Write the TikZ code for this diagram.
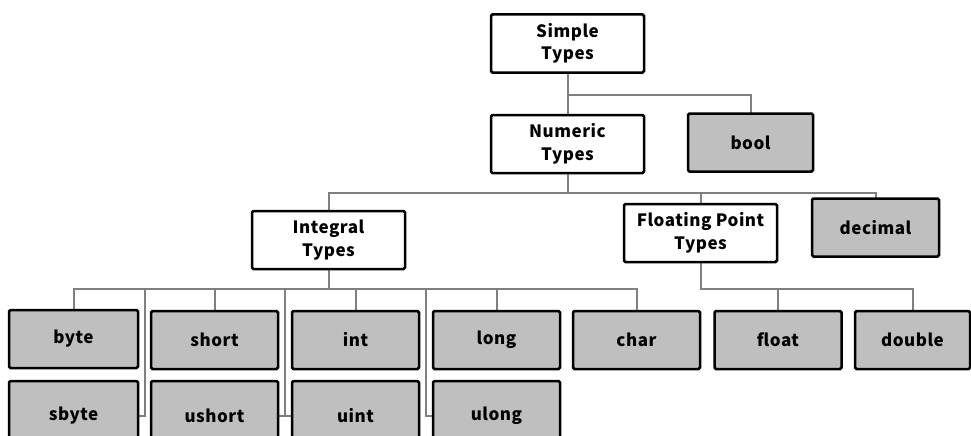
\documentclass[tikz,border=0pt]{standalone}
\usepackage{fontspec}
\setmainfont{Noto Sans CJK JP}[LetterSpace=3]
\usetikzlibrary{backgrounds}

\begin{document}
\begin{tikzpicture}[x=1pt,y=-1pt]
  \useasboundingbox (0,0) rectangle (971,436);
  \tikzstyle{Box}=[draw=black,line width=2.5pt,rounded corners=1.5pt,
    minimum width=153pt,minimum height=58pt,align=center,outer sep=0pt,
    font=\fontsize{17}{22.5}\selectfont\bfseries,inner sep=0pt]
  \tikzstyle{Leaf}=[Box,fill=gray!50!white,minimum width=127pt]
  \tikzstyle{Link}=[draw=gray,line width=2pt]
  \node[Box] (Simple) at (567.5,43.5) {Simple\\Types};
  \node[Box] (Numeric) at (567.5,144) {Numeric\\Types};
  \node[Leaf,minimum width=125pt] (bool) at (750.5,142.5) {bool};
  \node[Box] (Integral) at (328.5,240) {Integral\\Types};
  \node[Box] (Floating) at (700.5,233) {Floating Point\\Types};
  \node[Leaf] (decimal) at (875.5,227.5) {decimal};
  \node[Leaf,minimum width=129pt] (byte) at (73.5,339) {byte};
  \node[Leaf] (short) at (214.5,340) {short};
  \node[Leaf] (int) at (355.5,340) {int};
  \node[Leaf] (long) at (496.5,340) {long};
  \node[Leaf] (char) at (636.5,340) {char};
  \node[Leaf] (float) at (778,340) {float};
  \node[Leaf,minimum width=115pt] (double) at (912.5,340) {double};
  \tikzstyle{Leaf}=[Box,fill=gray!50!white,minimum width=127pt,minimum height=70pt]
  \node[Leaf,minimum width=129pt] (sbyte) at (73.5,416) {sbyte};
  \node[Leaf] (ushort) at (214.5,416) {ushort};
  \node[Leaf] (uint) at (355.5,416) {uint};
  \node[Leaf] (ulong) at (496.5,416) {ulong};
  \coordinate (s1) at (567.5,95);
  \coordinate (n1) at (567.5,193);
  \coordinate (i1) at (328.5,289);
  \coordinate (f1) at (700.5,289);
  \begin{scope}[on background layer]
    \draw[Link] (Simple) -- (Numeric);
    \draw[Link] (s1) -| (bool);
    \draw[Link] (Numeric) -- (n1) -| (Integral);
    \draw[Link] (n1) -| (Floating);
    \draw[Link] (n1) -| (decimal);
    \draw[Link] (Integral) -- (i1) -| (byte);
    \draw[Link] (i1) -| (short);
    \draw[Link] (i1) -| (int);
    \draw[Link] (i1) -| (long);
    \draw[Link] (i1) -| (char);
    \draw[Link] (i1) -| ([xshift=6.5pt]sbyte.east) -- (sbyte.east);
    \draw[Link] (i1) -| ([xshift=7pt]ushort.east) -- (ushort.east);
    \draw[Link] (i1) -| ([xshift=-7pt]uint.west) -- (uint.west);
    \draw[Link] (i1) -| ([xshift=-7pt]ulong.west) -- (ulong.west);
    \draw[Link] (Floating) -- (f1) -| (float);
    \draw[Link] (f1) -| (double);
  \end{scope}
\end{tikzpicture}
\end{document}
